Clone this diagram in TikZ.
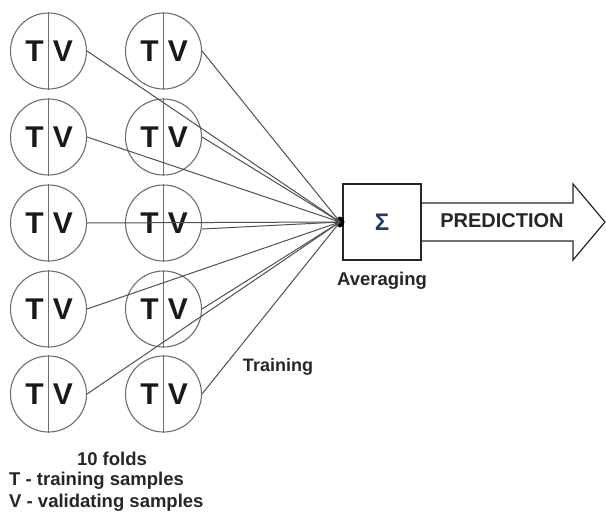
\documentclass[tikz,border=0pt]{standalone}
\usepackage{fontspec}
\setmainfont{Liberation Sans}
\usetikzlibrary{shapes.geometric}
\begin{document}
\begin{tikzpicture}[x=1pt,y=-1pt,
  fold/.style={circle,draw=circ,line width=1.1pt,minimum size=76pt,inner sep=0pt},
  conn/.style={draw=lin,line width=1pt},
  letter/.style={font=\bfseries\fontsize{30}{30}\selectfont,inner sep=0pt,text=black!90},
  lbl/.style={font=\bfseries\fontsize{18.5}{21}\selectfont,inner sep=0pt,text=black!85}]
\definecolor{circ}{HTML}{6E6E6E}
\definecolor{lin}{HTML}{505050}
\definecolor{sig}{HTML}{1F3A6A}
\useasboundingbox (0,0) rectangle (606,514);
\foreach \r/\y in {1/51,2/137,3/223,4/309,5/394}{
  \foreach \c/\x in {1/48.5,2/163.5}{
    \node[fold] (f\c\r) at (\x,\y) {};
    \draw[circ,line width=1.1pt] (f\c\r.north) -- (f\c\r.south);
    \node[letter] (t\c\r) at (\x-14,\y) {T};
    \node[letter] (v\c\r) at (\x+14.5,\y) {V};
  }
}
\node[draw=black!85,line width=1.2pt,minimum width=78pt,minimum height=76pt,inner sep=0pt] (box) at (382,222) {};
\node[font=\bfseries\fontsize{24}{24}\selectfont,text=sig] (sum) at (382,222) {Σ};
\node[ellipse,fill=black,inner sep=0pt,minimum width=9pt,minimum height=11pt] (dot) at (340,222) {};
\foreach \r in {1,2,4,5}{
  \draw[conn] (f1\r.east) -- (dot.center);
  \draw[conn] (f2\r.east) -- (dot.center);
}
\draw[conn] (f13.east) -- (dot.center);
\draw[conn] (f23.-9) -- (dot.center);
\coordinate (a1) at (421,203);
\coordinate (a2) at (421,241);
\draw[black!85,line width=1.2pt,line join=miter] (a1) -- (573,203) -- (573,184) -- (605,222) -- (573,260) -- (573,241) -- (a2);
\node[lbl,font=\bfseries\fontsize{20}{20}\selectfont] (pred) at (502,221) {PREDICTION};
\node[lbl] (avg) at (382,281) {Averaging};
\node[lbl,font=\bfseries\fontsize{18}{20}\selectfont] (train) at (278,367) {Training};
\node[lbl] (folds) at (112,459) {10 folds};
\node[lbl,anchor=west] (tl) at (9,481) {T - training samples};
\node[lbl,anchor=west] (vl) at (9,503) {V - validating samples};
\end{tikzpicture}
\end{document}
